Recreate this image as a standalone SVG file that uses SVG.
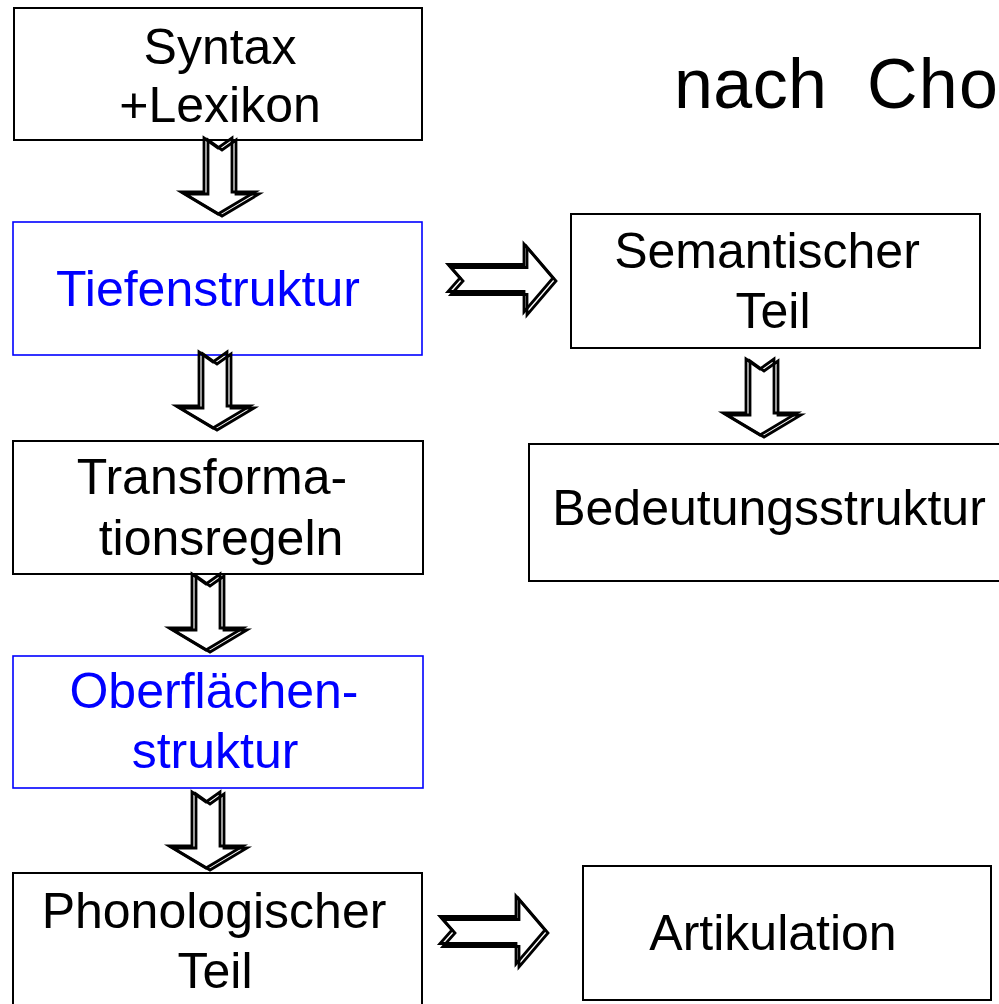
<svg xmlns="http://www.w3.org/2000/svg" xmlns:xlink="http://www.w3.org/1999/xlink" width="999" height="1004" viewBox="0 0 999 1004">
  <style>
    .box { fill: #ffffff; stroke: #000000; stroke-width: 2; }
    .box.blue { stroke: #0000ff; stroke-width: 1.6; }
    .lbl { font-family: "Liberation Sans", Arial, Helvetica, sans-serif; font-size: 50px; fill: #000000; text-anchor: middle; }
    .lbl.blue { fill: #0000ff; }
    .title { font-family: "Liberation Sans", Arial, Helvetica, sans-serif; font-size: 70px; fill: #000000; }
    .arr { fill: none; stroke: #000000; stroke-width: 2.8; stroke-linejoin: miter; }
  </style>
  <defs>
    <!-- block arrow pointing down, notched tail, origin at tail centre -->
    <path id="downArrow" d="M -14,0 L 0,10 L 14,0 L 14,54 L 37,54 L 0,76 L -37,54 L -14,54 Z"/>
    <!-- block arrow pointing right, notched tail, origin at tail centre -->
    <path id="rightArrow" d="M 0,-13.5 L 76,-13.5 L 76,-34 L 105,0 L 76,34 L 76,13.5 L 0,13.5 L 12,0 Z"/>
  </defs>

  <rect width="999" height="1004" fill="#ffffff"/>

  <g id="title">
    <text class="title" x="674" y="108" textLength="153" lengthAdjust="spacing">nach</text>
    <text class="title" x="867" y="108" textLength="131" lengthAdjust="spacing">Cho</text>
  </g>

  <g id="syntax">
    <rect class="box" x="14" y="8" width="408" height="132"/>
    <text class="lbl" x="220" y="64">Syntax</text>
    <text class="lbl" x="220" y="122">+Lexikon</text>
  </g>

  <g id="tiefenstruktur">
    <rect class="box blue" x="13" y="222" width="409" height="133"/>
    <text class="lbl blue" x="208" y="306">Tiefenstruktur</text>
  </g>

  <g id="transformationsregeln">
    <rect class="box" x="13" y="441" width="410" height="133"/>
    <text class="lbl" x="212" y="494">Transforma-</text>
    <text class="lbl" x="221" y="555">tionsregeln</text>
  </g>

  <g id="oberflaechenstruktur">
    <rect class="box blue" x="13" y="656" width="410" height="132"/>
    <text class="lbl blue" x="214" y="708">Oberflächen-</text>
    <text class="lbl blue" x="215" y="768">struktur</text>
  </g>

  <g id="phonologischer-teil">
    <rect class="box" x="13" y="873" width="409" height="140"/>
    <text class="lbl" x="214" y="928">Phonologischer</text>
    <text class="lbl" x="215" y="988">Teil</text>
  </g>

  <g id="semantischer-teil">
    <rect class="box" x="571" y="214" width="409" height="134"/>
    <text class="lbl" x="767" y="268">Semantischer</text>
    <text class="lbl" x="773" y="328">Teil</text>
  </g>

  <g id="bedeutungsstruktur">
    <rect class="box" x="529" y="444" width="490" height="137"/>
    <text class="lbl" x="769" y="525">Bedeutungsstruktur</text>
  </g>

  <g id="artikulation">
    <rect class="box" x="583" y="866" width="408" height="134"/>
    <text class="lbl" x="773" y="950">Artikulation</text>
  </g>

  <!-- connectors: each arrow is drawn twice, slightly offset, for a doubled outline -->
  <g id="connectors">
    <g transform="translate(218,138)">
      <use xlink:href="#downArrow" class="arr"/>
      <use xlink:href="#downArrow" class="arr" transform="translate(4,2)"/>
    </g>
    <g transform="translate(213,352)">
      <use xlink:href="#downArrow" class="arr"/>
      <use xlink:href="#downArrow" class="arr" transform="translate(4,2)"/>
    </g>
    <g transform="translate(206,574)">
      <use xlink:href="#downArrow" class="arr"/>
      <use xlink:href="#downArrow" class="arr" transform="translate(4,2)"/>
    </g>
    <g transform="translate(206,792)">
      <use xlink:href="#downArrow" class="arr"/>
      <use xlink:href="#downArrow" class="arr" transform="translate(4,2)"/>
    </g>
    <g transform="translate(760,359)">
      <use xlink:href="#downArrow" class="arr"/>
      <use xlink:href="#downArrow" class="arr" transform="translate(4,2)"/>
    </g>
    <g transform="translate(448,278)">
      <use xlink:href="#rightArrow" class="arr"/>
      <use xlink:href="#rightArrow" class="arr" transform="translate(3,3)"/>
    </g>
    <g transform="translate(440,930)">
      <use xlink:href="#rightArrow" class="arr"/>
      <use xlink:href="#rightArrow" class="arr" transform="translate(3,3)"/>
    </g>
  </g>
</svg>
